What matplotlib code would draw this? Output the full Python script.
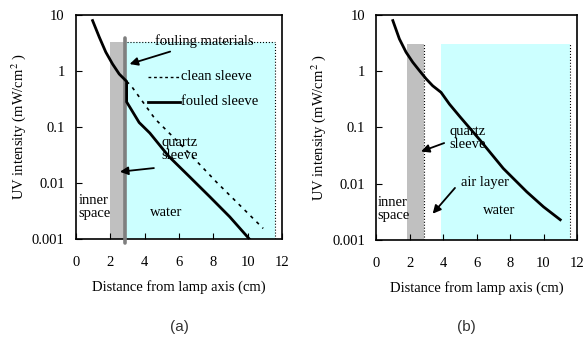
import numpy as np
import matplotlib
matplotlib.use("Agg")
import matplotlib.pyplot as plt

plt.rcParams['font.family'] = ['Liberation Serif', 'DejaVu Serif']
plt.rcParams['mathtext.fontset'] = 'stix'

# (a) fouled vs clean sleeve
a_fouled_x = [0.97, 1.36, 1.74, 2.13, 2.52, 2.95, 2.95, 3.2, 3.68, 4.3, 5.4, 6.63, 7.79, 8.95, 10.1]
a_fouled_y = [7.9, 4.0, 2.16, 1.33, 0.88, 0.65, 0.28, 0.21, 0.12, 0.078, 0.030, 0.0128, 0.0057, 0.0025, 0.001]
a_clean_x = [2.95, 3.2, 3.97, 4.6, 6.24, 8.18, 10.9]
a_clean_y = [0.65, 0.55, 0.26, 0.14, 0.044, 0.0104, 0.00155]

# (b) with air layer
b_x = [1.0, 1.39, 1.79, 2.19, 2.59, 2.99, 3.38, 3.88, 4.38, 5.01, 6.2, 7.6, 9.0, 10.0, 11.0]
b_y = [7.9, 3.74, 2.17, 1.44, 1.02, 0.73, 0.55, 0.42, 0.26, 0.155, 0.060, 0.0187, 0.0072, 0.0039, 0.0023]

# region limits (cm) and top of the shaded zones
a_quartz = (2.0, 2.8)
a_foul_x = 2.87
a_water = (2.87, 11.6)
b_quartz = (1.85, 2.88)
b_water = (3.88, 11.58)
zone_top_a = 3.25
zone_top_b = 3.0

xticks = [0, 2, 4, 6, 8, 10, 12]
yticks = [0.001, 0.01, 0.1, 1, 10]
ytick_labels = ['0.001', '0.01', '0.1', '1', '10']

fs = 10.5
fig = plt.figure(figsize=(5.84, 3.45), dpi=100)
axa = fig.add_axes([0.130, 0.307, 0.353, 0.650])
axb = fig.add_axes([0.644, 0.304, 0.344, 0.653])

cyan = '#ccffff'
qgray = '#c0c0c0'

for ax in (axa, axb):
    ax.set_yscale('log')
    ax.set_xlim(0, 12)
    ax.set_ylim(0.001, 10)
    ax.set_xticks(xticks)
    ax.set_yticks(yticks)
    ax.set_yticklabels(ytick_labels)
    ax.minorticks_off()
    ax.tick_params(direction='in', length=4, labelsize=fs)
    ax.tick_params(axis='x', pad=12)
    ax.tick_params(axis='y', pad=8)
    ax.set_xlabel('Distance from lamp axis (cm)', fontsize=fs, labelpad=8)
    ax.set_ylabel('UV intensity (mW/cm$^2$ )', fontsize=fs, labelpad=3)
    for s in ax.spines.values():
        s.set_linewidth(1.2)

# ---- panel a
axa.fill_between(a_quartz, 0.001, zone_top_a, color=qgray, lw=0, zorder=1)
axa.fill_between(a_water, 0.001, zone_top_a, color=cyan, lw=0, zorder=1)
axa.plot([3.0, a_water[1]], [zone_top_a, zone_top_a], ls=':', color='k', lw=0.8, zorder=2)
axa.plot([a_water[1], a_water[1]], [0.001, zone_top_a], ls=':', color='k', lw=0.8, zorder=2)
axa.plot([a_foul_x, a_foul_x], [0.00085, 3.8], color='#7f7f7f', lw=2.6,
         solid_capstyle='round', clip_on=False, zorder=3)
axa.plot(a_clean_x, a_clean_y, ls=(0, (2, 3)), color='k', lw=1.2, zorder=4)
axa.plot(a_fouled_x, a_fouled_y, color='k', lw=2, zorder=5)

axa.plot([4.2, 6.05], [0.78, 0.78], ls=(0, (2, 2)), color='k', lw=1)
axa.text(6.1, 0.78, 'clean sleeve', fontsize=fs, va='center')
axa.plot([4.2, 6.05], [0.28, 0.28], color='k', lw=2)
axa.text(6.1, 0.28, 'fouled sleeve', fontsize=fs, va='center')

arw = dict(arrowstyle='-|>', color='k', lw=1.3, mutation_scale=12)
axa.annotate('fouling materials', xy=(2.97, 1.28), xytext=(4.6, 3.4),
             fontsize=fs, va='center', ha='left', arrowprops=arw)
axa.text(5.0, 0.04, 'quartz\nsleeve', fontsize=fs, va='center', linespacing=1.0)
axa.annotate('', xy=(2.4, 0.0157), xytext=(4.7, 0.0187), arrowprops=arw)
axa.text(0.17, 0.0037, 'inner\nspace', fontsize=fs, va='center', linespacing=1.0)
axa.text(4.3, 0.003, 'water', fontsize=fs, va='center')

# ---- panel b
axb.fill_between(b_quartz, 0.001, zone_top_b, color=qgray, lw=0, zorder=1)
axb.fill_between(b_water, 0.001, zone_top_b, color=cyan, lw=0, zorder=1)
axb.plot([b_quartz[1], b_quartz[1]], [0.001, zone_top_b], ls=':', color='k', lw=0.8, zorder=2)
axb.plot([b_water[1], b_water[1]], [0.001, zone_top_b], ls=':', color='k', lw=0.8, zorder=2)
axb.plot(b_x, b_y, color='k', lw=2, zorder=5)

axb.text(4.4, 0.065, 'quartz\nsleeve', fontsize=fs, va='center', linespacing=1.0)
axb.annotate('', xy=(2.53, 0.036), xytext=(4.22, 0.055), arrowprops=arw)
axb.text(5.1, 0.0104, 'air layer', fontsize=fs, va='center')
axb.annotate('', xy=(3.27, 0.0027), xytext=(4.82, 0.0092), arrowprops=arw)
axb.text(0.08, 0.0036, 'inner\nspace', fontsize=fs, va='center', linespacing=1.0)
axb.text(6.4, 0.0033, 'water', fontsize=fs, va='center')

fig.text(0.307, 0.052, '(a)', fontsize=11, ha='center', va='center',
         family='Liberation Sans', color='#333333')
fig.text(0.798, 0.052, '(b)', fontsize=11, ha='center', va='center',
         family='Liberation Sans', color='#333333')

fig.savefig('out.png', dpi=100)
